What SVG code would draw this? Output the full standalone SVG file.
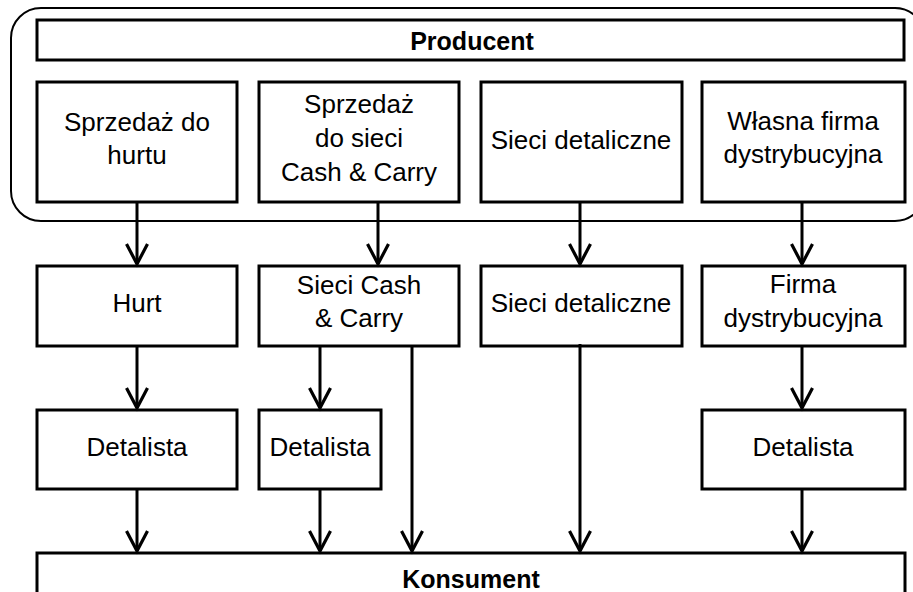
<svg xmlns="http://www.w3.org/2000/svg" width="913" height="592" viewBox="0 0 913 592">
  <style>
    .box { fill: #fff; stroke: #000; stroke-width: 3; }
    .frame { fill: none; stroke: #000; stroke-width: 2; }
    .t { font-family: "Liberation Sans", Arial, sans-serif; font-size: 26px; fill: #000; text-anchor: middle; }
    .b { font-weight: bold; font-size: 25px; }
    .link { stroke: #000; stroke-width: 3; fill: none; marker-end: url(#head); }
  </style>
  <defs>
    <marker id="head" markerUnits="userSpaceOnUse" viewBox="-24 -14 28 28" markerWidth="28" markerHeight="28" refX="0" refY="0" orient="auto" overflow="visible">
      <path d="M-20,-10.5 L0,0 L-20,10.5" fill="none" stroke="#000" stroke-width="3.2" stroke-linejoin="miter"/>
    </marker>
  </defs>
  <rect width="913" height="592" fill="#fff"/>

  <!-- producer frame -->
  <rect class="frame" x="11" y="8" width="914" height="213" rx="30" ry="30"/>

  <g id="producent">
    <rect class="box" x="37" y="20" width="867" height="40"/>
    <text class="t b" x="472" y="50">Producent</text>
  </g>

  <!-- producer channels -->
  <g id="sprzedaz-hurt">
    <rect class="box" x="37" y="82" width="200" height="120"/>
    <text class="t" x="137" y="131">Sprzedaż do</text>
    <text class="t" x="137" y="164">hurtu</text>
  </g>
  <g id="sprzedaz-cc">
    <rect class="box" x="259" y="82" width="200" height="120"/>
    <text class="t" x="359" y="113">Sprzedaż</text>
    <text class="t" x="359" y="147">do sieci</text>
    <text class="t" x="359" y="181">Cash &amp; Carry</text>
  </g>
  <g id="sieci-det-1">
    <rect class="box" x="481" y="82" width="201" height="120"/>
    <text class="t" x="581" y="149">Sieci detaliczne</text>
  </g>
  <g id="wlasna-firma">
    <rect class="box" x="702" y="82" width="203" height="120"/>
    <text class="t" x="803" y="130">Własna firma</text>
    <text class="t" x="803" y="163">dystrybucyjna</text>
  </g>

  <!-- intermediaries -->
  <g id="hurt">
    <rect class="box" x="37" y="266" width="200" height="80"/>
    <text class="t" x="137" y="312">Hurt</text>
  </g>
  <g id="sieci-cc">
    <rect class="box" x="259" y="266" width="200" height="80"/>
    <text class="t" x="359" y="294">Sieci Cash</text>
    <text class="t" x="359" y="327">&amp; Carry</text>
  </g>
  <g id="sieci-det-2">
    <rect class="box" x="481" y="266" width="201" height="80"/>
    <text class="t" x="581" y="312">Sieci detaliczne</text>
  </g>
  <g id="firma-dystr">
    <rect class="box" x="702" y="266" width="203" height="80"/>
    <text class="t" x="803" y="293">Firma</text>
    <text class="t" x="803" y="327">dystrybucyjna</text>
  </g>

  <!-- retailers -->
  <g id="detalista-1">
    <rect class="box" x="37" y="410" width="200" height="79"/>
    <text class="t" x="137" y="456">Detalista</text>
  </g>
  <g id="detalista-2">
    <rect class="box" x="259" y="410" width="122" height="79"/>
    <text class="t" x="320" y="456">Detalista</text>
  </g>
  <g id="detalista-3">
    <rect class="box" x="702" y="410" width="203" height="79"/>
    <text class="t" x="803" y="456">Detalista</text>
  </g>

  <g id="konsument">
    <rect class="box" x="37" y="553" width="868" height="60"/>
    <text class="t b" x="471" y="588">Konsument</text>
  </g>

  <g id="connectors">
    <line class="link" x1="137" y1="202" x2="137" y2="264"/>
    <line class="link" x1="378" y1="202" x2="378" y2="264"/>
    <line class="link" x1="580" y1="202" x2="580" y2="264"/>
    <line class="link" x1="802" y1="202" x2="802" y2="264"/>
    <line class="link" x1="137" y1="346" x2="137" y2="408"/>
    <line class="link" x1="320" y1="346" x2="320" y2="408"/>
    <line class="link" x1="802" y1="346" x2="802" y2="408"/>
    <line class="link" x1="137" y1="489" x2="137" y2="551"/>
    <line class="link" x1="320" y1="489" x2="320" y2="551"/>
    <line class="link" x1="412" y1="346" x2="412" y2="551"/>
    <line class="link" x1="580" y1="344" x2="580" y2="551"/>
    <line class="link" x1="802" y1="489" x2="802" y2="551"/>
  </g>
</svg>
